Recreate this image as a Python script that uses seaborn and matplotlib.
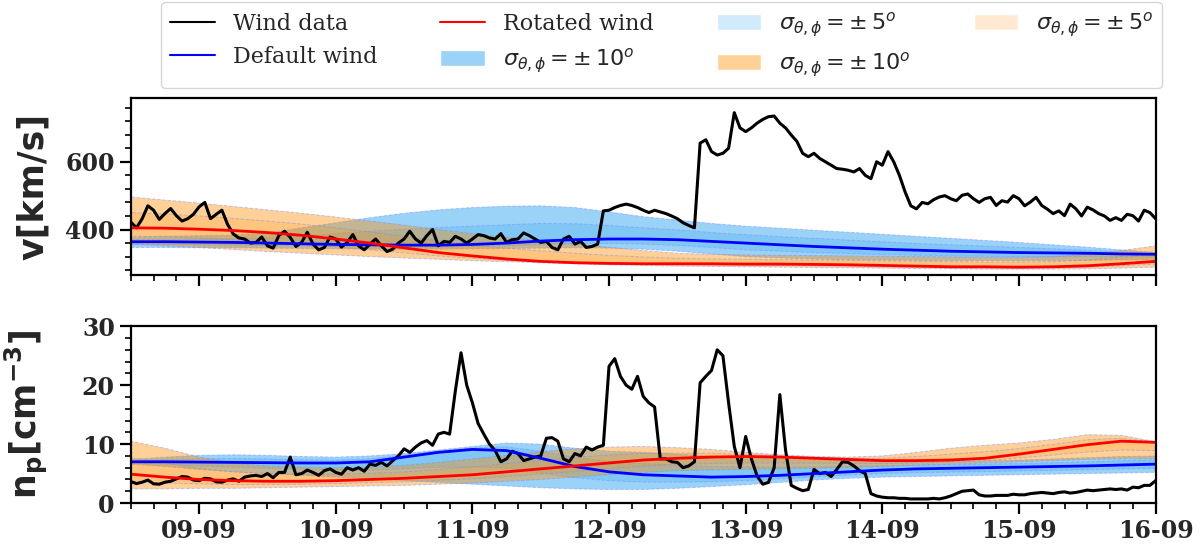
import matplotlib
matplotlib.use("Agg")
import pandas as pd
import matplotlib.pyplot as plt
import matplotlib.dates as mdates
from matplotlib.ticker import MultipleLocator
from matplotlib.patches import Patch
from matplotlib.lines import Line2D
from matplotlib.colors import to_rgba
import seaborn as sns

# ---- data ----
# measured wind, hourly from 08-09 12:00 to 16-09 00:00
wind_time = pd.date_range("2017-09-08 12:00", "2017-09-16 00:00", freq="1h")
wind_v = [422, 405, 432, 470, 457, 430, 447, 462, 441, 425, 432, 445, 467, 480, 432, 445,
          457, 415, 387, 375, 372, 360, 362, 378, 352, 345, 382, 395, 377, 350, 362, 392,
          357, 340, 347, 378, 372, 348, 362, 385, 352, 340, 357, 372, 352, 335, 342, 360,
          372, 395, 372, 360, 382, 400, 352, 365, 362, 380, 372, 360, 372, 385, 382, 375,
          372, 388, 362, 370, 372, 390, 382, 372, 362, 365, 347, 340, 372, 380, 357, 365,
          347, 350, 357, 455, 457, 465, 471, 475, 471, 465, 457, 450, 457, 452, 447, 440,
          432, 420, 412, 405, 655, 665, 630, 620, 625, 640, 745, 700, 689, 700, 714, 725,
          733, 735, 714, 700, 679, 660, 625, 615, 625, 610, 600, 590, 580, 578, 575, 570,
          580, 560, 550, 600, 590, 630, 600, 560, 511, 470, 461, 480, 476, 488, 496, 500,
          491, 485, 501, 505, 491, 480, 491, 495, 471, 485, 481, 500, 491, 470, 481, 495,
          471, 460, 447, 455, 441, 475, 461, 440, 466, 458, 447, 440, 427, 435, 427, 445,
          441, 425, 457, 450, 432]
wind_n = [3.65, 3.3, 3.54, 3.9, 3.26, 3.2, 3.54, 3.7, 4.1, 4.5, 4.4, 3.9, 3.8, 4.2, 4.1, 3.6,
          3.54, 3.9, 4.1, 3.7, 4.4, 4.6, 4.7, 4.5, 5.0, 4.3, 5.2, 5.2, 7.8, 4.8, 5.0, 5.6,
          5.2, 4.7, 5.5, 5.8, 5.2, 4.9, 6.0, 5.6, 6.0, 5.4, 6.6, 6.4, 6.9, 6.3, 7.2, 8.0,
          9.2, 8.6, 9.5, 10.2, 10.6, 9.8, 11.7, 12.0, 11.7, 19.0, 25.5, 20.0, 17.0, 13.5,
          11.7, 10.0, 8.9, 7.0, 7.5, 8.8, 8.4, 7.2, 7.5, 7.8, 8.0, 11.0, 11.1, 10.5, 7.5, 7.0,
          8.4, 8.0, 9.5, 9.0, 9.5, 9.8, 23.2, 24.5, 21.5, 20.0, 19.3, 21.5, 18.1, 17.0,
          16.3, 7.5, 7.5, 7.0, 6.9, 6.0, 6.3, 7.0, 20.4, 21.5, 22.5, 26.0, 25.0, 17.0, 9.6, 6.0,
          11.3, 7.5, 4.6, 3.2, 3.5, 6.0, 18.4, 9.0, 3.0, 2.5, 2.1, 2.3, 5.7, 5.0, 5.2, 4.5,
          5.7, 7.0, 6.9, 6.3, 5.5, 5.0, 1.6, 1.2, 1.0, 0.9, 0.9, 0.8, 0.8, 0.7, 0.7, 0.7,
          0.7, 0.8, 0.7, 0.9, 1.2, 1.6, 2.0, 2.1, 2.2, 1.4, 1.2, 1.2, 1.3, 1.3, 1.3, 1.5,
          1.4, 1.4, 1.6, 1.7, 1.8, 1.7, 1.6, 1.8, 1.9, 1.7, 1.8, 2.0, 2.2, 2.1, 2.2, 2.3,
          2.4, 2.3, 2.4, 2.2, 2.7, 2.6, 3.0, 3.0, 3.8]

# model runs, every 6 hours
model_time = pd.date_range("2017-09-08 12:00", "2017-09-16 00:00", freq="6h")

default_v = [364, 364, 363, 362, 360, 358, 356, 355, 354, 354, 356, 360, 366, 370, 372, 372,
             370, 365, 360, 355, 350, 346, 342, 339, 336, 334, 332, 331, 330, 328, 327]
default_v10_hi = [378, 380, 382, 384, 390, 405, 420, 435, 448, 458, 465, 469, 470, 465, 452, 438,
                  428, 418, 410, 404, 398, 392, 386, 380, 374, 368, 362, 355, 348, 340, 333]
default_v10_lo = [347, 347, 346, 346, 345, 344, 343, 342, 342, 342, 343, 344, 345, 346, 345, 342,
                  336, 328, 320, 316, 313, 311, 310, 309, 308, 308, 308, 308, 309, 310, 311]
default_v5_hi = [371, 372, 372, 373, 375, 381, 388, 395, 401, 406, 410, 414, 418, 417, 412, 405,
                 399, 391, 385, 379, 374, 369, 364, 359, 355, 351, 347, 343, 339, 334, 330]
default_v5_lo = [356, 356, 355, 354, 353, 351, 350, 349, 348, 348, 350, 352, 356, 358, 359, 357,
                 353, 347, 340, 336, 332, 329, 326, 324, 322, 321, 320, 320, 320, 319, 319]

rotated_v = [405, 404, 401, 397, 391, 383, 372, 360, 346, 332, 322, 313, 306, 302, 300, 299,
             299, 299, 298, 298, 297, 296, 294, 292, 290, 290, 289, 290, 293, 299, 306]
rotated_v10_hi = [496, 487, 478, 468, 458, 448, 437, 425, 413, 400, 388, 377, 367, 357, 348, 338,
                  330, 327, 325, 324, 323, 322, 321, 320, 319, 318, 318, 320, 327, 338, 352]
rotated_v10_lo = [357, 352, 347, 341, 335, 330, 325, 320, 316, 312, 308, 305, 302, 299, 296, 294,
                  292, 291, 290, 289, 288, 287, 286, 285, 284, 283, 283, 283, 284, 286, 289]
rotated_v5_hi = [450, 446, 440, 433, 425, 416, 405, 393, 380, 366, 355, 345, 337, 330, 324, 319,
                 315, 313, 312, 311, 310, 309, 308, 306, 305, 304, 304, 305, 310, 319, 329]
rotated_v5_lo = [381, 378, 374, 369, 363, 357, 349, 340, 331, 322, 315, 309, 304, 301, 298, 297,
                 296, 295, 294, 294, 293, 292, 290, 289, 287, 287, 286, 287, 289, 293, 298]

default_n = [7.0, 7.0, 6.95, 6.9, 6.85, 6.8, 6.8, 7.0, 7.8, 8.6, 9.1, 8.9, 7.6, 6.2, 5.3, 4.8,
             4.6, 4.4, 4.5, 4.7, 5.0, 5.3, 5.6, 5.8, 5.9, 6.0, 6.1, 6.2, 6.3, 6.45, 6.6]
default_n10_hi = [7.4, 7.8, 8.1, 8.2, 8.1, 7.9, 7.8, 8.0, 8.4, 9.0, 9.6, 10.2, 10.0, 9.3, 8.8, 8.6,
                  8.3, 8.0, 7.8, 7.5, 7.3, 7.2, 7.1, 7.1, 7.1, 7.2, 7.3, 7.5, 7.7, 7.9, 8.0]
default_n10_lo = [6.6, 6.2, 5.7, 5.3, 5.0, 4.7, 4.4, 4.1, 3.8, 3.5, 3.2, 2.9, 2.6, 2.4, 2.3, 2.3,
                  2.5, 2.8, 3.1, 3.5, 3.9, 4.2, 4.4, 4.5, 4.6, 4.7, 4.8, 4.9, 5.0, 5.1, 5.2]
default_n5_hi = [7.2, 7.4, 7.5, 7.55, 7.5, 7.35, 7.3, 7.5, 8.1, 8.8, 9.35, 9.55, 8.8, 7.75, 7.05, 6.7,
                 6.45, 6.2, 6.15, 6.1, 6.15, 6.25, 6.35, 6.45, 6.5, 6.6, 6.7, 6.85, 7.0, 7.2, 7.3]
default_n5_lo = [6.8, 6.6, 6.3, 6.1, 5.9, 5.75, 5.6, 5.55, 5.8, 6.05, 6.15, 5.9, 5.1, 4.3, 3.8, 3.55,
                 3.55, 3.6, 3.8, 4.1, 4.45, 4.75, 5.0, 5.15, 5.25, 5.35, 5.45, 5.55, 5.65, 5.8, 5.9]

rotated_n = [4.9, 4.4, 4.0, 3.8, 3.7, 3.7, 3.8, 4.0, 4.2, 4.5, 4.8, 5.3, 5.8, 6.3, 6.8, 7.3,
             7.6, 7.8, 7.9, 7.8, 7.6, 7.4, 7.2, 7.2, 7.3, 7.6, 8.3, 9.1, 9.9, 10.5, 10.3]
rotated_n10_hi = [10.5, 9.3, 7.8, 6.8, 6.3, 6.1, 6.0, 6.1, 6.4, 6.9, 7.5, 8.1, 8.7, 9.2, 9.5, 9.6,
                  9.4, 9.1, 8.6, 8.2, 7.9, 7.8, 8.0, 8.6, 9.3, 9.8, 10.2, 10.8, 11.6, 11.5, 10.4]
rotated_n10_lo = [2.4, 2.4, 2.5, 2.5, 2.6, 2.7, 2.8, 2.9, 3.0, 3.2, 3.4, 3.7, 4.0, 4.4, 4.8, 5.2,
                  5.5, 5.6, 5.7, 5.8, 5.9, 6.0, 6.2, 6.4, 6.6, 6.8, 7.0, 7.2, 7.4, 7.5, 7.5]
rotated_n5_hi = [7.7, 6.85, 5.9, 5.3, 5.0, 4.9, 4.9, 5.05, 5.3, 5.7, 6.15, 6.7, 7.25, 7.75, 8.15, 8.45,
                 8.5, 8.45, 8.25, 8.0, 7.75, 7.6, 7.6, 7.9, 8.3, 8.7, 9.25, 9.95, 10.75, 11.0, 10.35]
rotated_n5_lo = [3.65, 3.4, 3.25, 3.15, 3.15, 3.2, 3.3, 3.45, 3.6, 3.85, 4.1, 4.5, 4.9, 5.35, 5.8, 6.25,
                 6.55, 6.7, 6.8, 6.8, 6.75, 6.7, 6.7, 6.8, 6.95, 7.2, 7.65, 8.15, 8.65, 9.0, 8.9]

wind = pd.DataFrame({"time": wind_time, "v": wind_v, "n": wind_n})
model = pd.DataFrame({"time": model_time, "vd": default_v, "vr": rotated_v,
                      "nd": default_n, "nr": rotated_n})

# ---- style ----
sns.set_style("ticks")
plt.rcParams["font.family"] = ["DejaVu Serif"]
plt.rcParams["mathtext.fontset"] = "dejavusans"
plt.rcParams["axes.linewidth"] = 1.6

blue = "#1f9cf0"
orange = "darkorange"
c_b10 = to_rgba(blue, 0.45)
c_b5 = to_rgba(blue, 0.2)
c_o10 = to_rgba(orange, 0.4)
c_o5 = to_rgba(orange, 0.18)
edge = (0.45, 0.55, 1.0, 0.45)

fig, (ax1, ax2) = plt.subplots(2, 1, figsize=(12, 5.51), dpi=100, sharex=True)
fig.subplots_adjust(left=0.109, right=0.963, top=0.822, bottom=0.087, hspace=0.29)


def bands(ax, t, b10, b5, o10, o5):
    for (lo, hi), col in [(b10, c_b10), (b5, c_b5), (o10, c_o10), (o5, c_o5)]:
        ax.fill_between(t, lo, hi, facecolor=col, edgecolor=edge, linewidth=0.7,
                        linestyle="--")


bands(ax1, model_time, (default_v10_lo, default_v10_hi), (default_v5_lo, default_v5_hi),
      (rotated_v10_lo, rotated_v10_hi), (rotated_v5_lo, rotated_v5_hi))
bands(ax2, model_time, (default_n10_lo, default_n10_hi), (default_n5_lo, default_n5_hi),
      (rotated_n10_lo, rotated_n10_hi), (rotated_n5_lo, rotated_n5_hi))

for ax, wcol, dcol, rcol in [(ax1, "v", "vd", "vr"), (ax2, "n", "nd", "nr")]:
    sns.lineplot(data=wind, x="time", y=wcol, ax=ax, color="black", lw=2.2)
    sns.lineplot(data=model, x="time", y=dcol, ax=ax, color="blue", lw=2)
    sns.lineplot(data=model, x="time", y=rcol, ax=ax, color="red", lw=2)

ax1.set_ylim(266, 788)
ax2.set_ylim(0, 30)
ax1.yaxis.set_major_locator(MultipleLocator(200))
ax1.yaxis.set_minor_locator(MultipleLocator(40))
ax2.yaxis.set_major_locator(MultipleLocator(10))
ax2.yaxis.set_minor_locator(MultipleLocator(2))

ax2.set_xlim(pd.Timestamp("2017-09-08 12:00"), pd.Timestamp("2017-09-16 00:00"))
ax2.xaxis.set_major_locator(mdates.DayLocator())
ax2.xaxis.set_minor_locator(mdates.HourLocator(byhour=range(0, 24, 4)))
ax2.xaxis.set_major_formatter(mdates.DateFormatter("%d-%m"))

for ax in (ax1, ax2):
    for s in ax.spines.values():
        s.set_visible(True)
        s.set_color("black")
    ax.tick_params(which="major", length=8, width=1.6, labelsize=17, color="black")
    ax.tick_params(which="minor", length=4, width=1.2, color="black")
    ax.set_xlabel("")
    for lab in ax.get_xticklabels() + ax.get_yticklabels():
        lab.set_fontweight("bold")
ax1.tick_params(labelbottom=False)

lab_font = dict(family="DejaVu Sans", weight="bold", size=25)
ax1.set_ylabel("v[km/s]", fontdict=lab_font)
ax2.set_ylabel(r"$\mathbf{n_p[cm^{-3}]}$", fontdict=lab_font)
ax1.yaxis.set_label_coords(-0.079, 0.5)
ax2.yaxis.set_label_coords(-0.079, 0.5)

handles = [
    Line2D([], [], color="black", lw=1.5),
    Line2D([], [], color="blue", lw=1.5),
    Line2D([], [], color="red", lw=1.5),
    Patch(facecolor=c_b10),
    Patch(facecolor=c_b5),
    Patch(facecolor=c_o10),
    Patch(facecolor=c_o5),
]
labels = ["Wind data", "Default wind", "Rotated wind",
          r"$\sigma_{\theta,\phi}=\pm\,10^o$", r"$\sigma_{\theta,\phi}=\pm\,5^o$",
          r"$\sigma_{\theta,\phi}=\pm\,10^o$", r"$\sigma_{\theta,\phi}=\pm\,5^o$"]
ax1.legend(handles, labels, ncol=4, loc="lower center", bbox_to_anchor=(0.518, 1.057),
           borderaxespad=0,
           prop=dict(family="DejaVu Serif", size=16, weight="normal"),
           frameon=True, columnspacing=2.85, handlelength=2.0)

fig.savefig("out.png", dpi=100)
